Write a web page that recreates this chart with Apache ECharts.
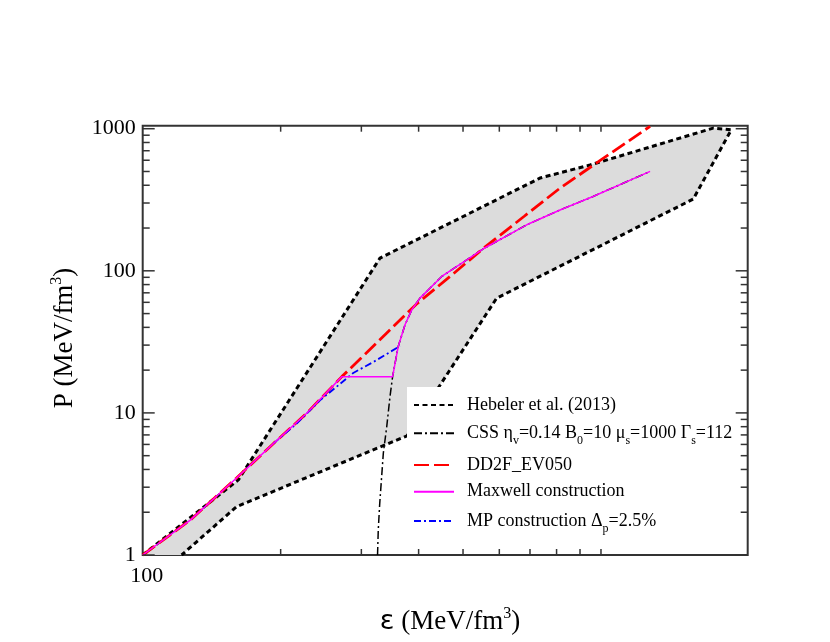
<!DOCTYPE html>
<html>
<head>
<meta charset="utf-8">
<script src="https://cdn.jsdelivr.net/npm/echarts@6/dist/echarts.min.js"></script>
<style>
html, body { margin: 0; padding: 0; background: #fff; }
#chart { width: 830px; height: 642px; }
</style>
</head>
<body>
<div id="chart"></div>
<script>
// Hebeler et al. (2013) band: upper edge left->right, then lower edge right->left
var hebX = [100, 161.7, 329.4, 736, 946, 1758, 1925, 1590, 592, 377.4, 160.3, 121.6];
var hebY = [1, 3.38, 122.8, 449.6, 555, 1010, 984, 320, 64.2, 6.9, 2.19, 1];

// CSS quark branch
var cssX = [325.4, 326.6, 329, 335, 340.8, 346.4, 351, 361, 373.6, 386.5, 402.7, 449.3, 509.4, 553.6, 688.7, 814, 961, 1280];
var cssY = [1, 1.5, 2.3, 5.2, 8, 13, 18, 29.3, 41.7, 53.1, 64.2, 91.2, 119.5, 142.9, 210.8, 268, 333.6, 500.6];

// DD2F_EV050 hadronic EoS
var ddX = [100, 127, 160, 193, 228, 272, 300, 340, 395, 470, 554, 680, 814, 1000, 1280];
var ddY = [1, 1.76, 3.47, 6.1, 9.95, 18, 24.4, 36.2, 58, 92, 144, 242, 382, 603, 1040];

// Maxwell construction
var mxX = [100, 127, 160, 193, 228, 272, 351, 361, 373.6, 386.5, 402.7, 449.3, 509.4, 553.6, 688.7, 814, 961, 1280];
var mxY = [1, 1.76, 3.47, 6.1, 9.95, 18, 18, 29.3, 41.7, 53.1, 64.2, 91.2, 119.5, 142.9, 210.8, 268, 333.6, 500.6];

// mixed phase construction
var mpX = [193, 216.7, 244, 265, 288, 320, 364];
var mpY = [6.1, 8.4, 12.3, 15.3, 19.1, 23.0, 29.5];

var xTicks = [200, 300, 400, 500, 600, 700, 800, 900, 1000];
var yMajorTicks = [1, 10, 100, 1000];
var yMinorTicks = [2, 3, 4, 5, 6, 7, 8, 9, 20, 30, 40, 50, 60, 70, 80, 90, 200, 300, 400, 500, 600, 700, 800, 900];
var xLabels = [100];

var names = ['Hebeler et al. (2013)', 'CSS ηv=0.14 B0=10 μs=1000 Γs=112', 'DD2F_EV050', 'Maxwell construction', 'MP construction Δp=2.5%'];
var legendText = {};
legendText[names[0]] = 'Hebeler et al. (2013)';
legendText[names[1]] = 'CSS η{sub|v}=0.14 B{sub|0}=10 μ{sub|s}=1000 Γ{sub|s}=112';
legendText[names[2]] = 'DD2F_EV050';
legendText[names[3]] = 'Maxwell construction';
legendText[names[4]] = 'MP construction Δ{sub|p}=2.5%';

function pairs(xs, ys) {
    return xs.map(function (x, i) { return [x, ys[i]]; });
}

var serif = 'Liberation Serif';
var tickColor = '#333';

var myChart = echarts.init(document.getElementById('chart'));

function tickSeries(values, isX, len) {
    return {
        type: 'custom',
        silent: true,
        clip: false,
        z: 20,
        data: values.map(function (v) { return isX ? [v, 1] : [100, v]; }),
        renderItem: function (params, api) {
            var p = api.coord([api.value(0), api.value(1)]);
            var cs = params.coordSys;
            var st = {stroke: tickColor, lineWidth: 1.5};
            if (isX) {
                var b = cs.y + cs.height;
                return {type: 'group', children: [
                    {type: 'line', shape: {x1: p[0], y1: b, x2: p[0], y2: b - len}, style: st},
                    {type: 'line', shape: {x1: p[0], y1: cs.y, x2: p[0], y2: cs.y + len}, style: st}
                ]};
            }
            var r = cs.x + cs.width;
            return {type: 'group', children: [
                {type: 'line', shape: {x1: cs.x, y1: p[1], x2: cs.x + len, y2: p[1]}, style: st},
                {type: 'line', shape: {x1: r, y1: p[1], x2: r - len, y2: p[1]}, style: st}
            ]};
        }
    };
}

function lineSeries(name, xs, ys, color, width, dash) {
    return {
        name: name,
        type: 'line',
        data: pairs(xs, ys),
        showSymbol: false,
        symbol: 'none',
        z: 2,
        lineStyle: {color: color, width: width, type: dash},
        itemStyle: {color: color},
        emphasis: {disabled: true}
    };
}

var rowY = [405, 433.3, 465, 491.7, 521];
var legends = names.map(function (n, i) {
    return {
        data: [n],
        left: 413,
        top: rowY[i] - 14,
        orient: 'vertical',
        padding: 0,
        itemWidth: 40,
        itemHeight: 14,
        selectedMode: false,
        z: 10,
        itemStyle: {opacity: 0},
        formatter: function (name) { return legendText[name]; },
        textStyle: {
            fontFamily: serif,
            fontSize: 18,
            color: '#000',
            lineHeight: 28,
            padding: [0, 0, 0, 8],
            rich: {
                sub: {fontFamily: serif, fontSize: 12, lineHeight: 12, verticalAlign: 'bottom', color: '#000'}
            }
        }
    };
});

var option = {
    backgroundColor: '#fff',
    animation: false,
    grid: {
        left: 142.7,
        right: 82.3,
        top: 125.7,
        bottom: 87,
        show: true,
        borderColor: '#333',
        borderWidth: 2,
        backgroundColor: 'transparent'
    },
    xAxis: {
        type: 'log',
        logBase: 10,
        min: 100,
        max: 2090,
        axisLine: {show: false},
        axisTick: {show: false},
        splitLine: {show: false},
        axisLabel: {
            margin: 10,
            fontFamily: serif,
            fontSize: 22,
            color: '#000',
            padding: [0, 0, 0, 8],
            showMinLabel: true,
            showMaxLabel: false,
            formatter: function (v) {
                for (var i = 0; i < xLabels.length; i++) {
                    if (Math.abs(v / xLabels[i] - 1) < 1e-6) return String(xLabels[i]);
                }
                return '';
            }
        }
    },
    yAxis: {
        type: 'log',
        logBase: 10,
        min: 1,
        max: 1050,
        axisLine: {show: false},
        axisTick: {show: false},
        splitLine: {show: false},
        axisLabel: {
            margin: 7,
            fontFamily: serif,
            fontSize: 22,
            color: '#000',
            showMaxLabel: false,
            formatter: function (v) {
                for (var i = 0; i < yMajorTicks.length; i++) {
                    if (Math.abs(v / yMajorTicks[i] - 1) < 1e-6) return String(yMajorTicks[i]);
                }
                return '';
            }
        }
    },
    legend: legends,
    graphic: [
        {
            type: 'rect',
            z: 5,
            silent: true,
            shape: {x: 407, y: 387, width: 333, height: 167},
            style: {fill: '#fff'}
        },
        {
            type: 'text',
            z: 10,
            x: 65,
            y: 338,
            rotation: Math.PI / 2,
            style: {
                text: 'P (MeV/fm{sup|3})',
                font: '27px "Liberation Serif"',
                fill: '#000',
                align: 'center',
                verticalAlign: 'middle',
                textAlign: 'center',
                textVerticalAlign: 'middle',
                lineHeight: 32,
                rich: {
                    sup: {fontFamily: serif, fontSize: 16, lineHeight: 14, verticalAlign: 'top', fill: '#000'}
                }
            }
        },
        {
            type: 'text',
            z: 10,
            x: 450,
            y: 622,
            style: {
                text: '{eps|ε} (MeV/fm{sup|3})',
                font: '27px "Liberation Serif"',
                fill: '#000',
                align: 'center',
                verticalAlign: 'middle',
                textAlign: 'center',
                textVerticalAlign: 'middle',
                lineHeight: 32,
                rich: {
                    eps: {fontFamily: 'DejaVu Sans', fontSize: 27, lineHeight: 32, fill: '#000'},
                    sup: {fontFamily: serif, fontSize: 16, lineHeight: 14, verticalAlign: 'top', fill: '#000'}
                }
            }
        }
    ],
    series: [
        {
            type: 'custom',
            silent: true,
            z: 1,
            data: pairs(hebX, hebY),
            renderItem: function (params, api) {
                if (params.dataIndex !== 0) return null;
                var pts = pairs(hebX, hebY).map(function (p) { return api.coord(p); });
                return {type: 'polygon', shape: {points: pts}, style: {fill: '#dcdcdc'}};
            }
        },
        lineSeries(names[0], hebX, hebY, '#000', 3, [5, 3.5]),
        lineSeries(names[1], cssX, cssY, '#000', 1.5, [8, 3, 2, 3]),
        lineSeries(names[2], ddX, ddY, '#ff0000', 2.8, [15, 5]),
        lineSeries(names[4], mpX, mpY, '#0000ff', 1.8, [7, 3, 2, 3]),
        lineSeries(names[3], mxX, mxY, '#ff00ff', 1.5, 'solid'),
        tickSeries(xTicks, true, 6),
        tickSeries(yMinorTicks, false, 7),
        tickSeries(yMajorTicks, false, 12)
    ]
};

myChart.setOption(option);
</script>
</body>
</html>
